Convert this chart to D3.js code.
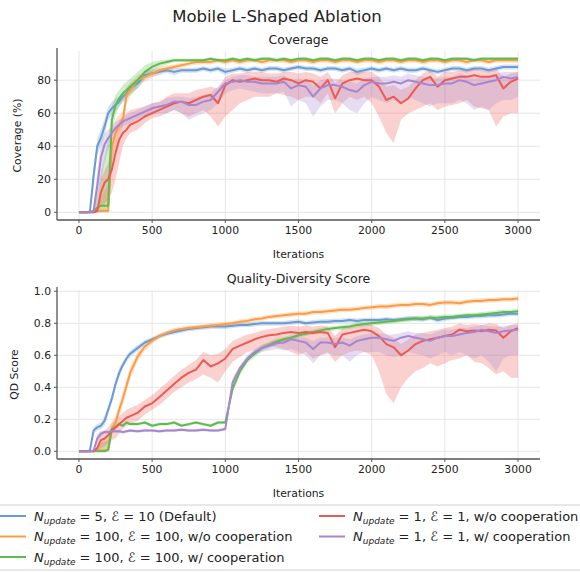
<!DOCTYPE html>
<html>
<head>
<meta charset="utf-8">
<script src="https://cdn.jsdelivr.net/npm/d3@7"></script>
<style>
  body { margin: 0; background: #fff; }
  text { font-family: "DejaVu Sans", sans-serif; fill: #222; }
</style>
</head>
<body>
<svg id="chart" width="580" height="572"></svg>
<script>
// iterations sampled from the figure
var iters = [0,50,75,100,125,150,175,200,225,250,275,300,325,350,
  400,450,500,550,600,650,700,750,800,850,
  900,950,1000,1050,1100,1150,1200,1250,1300,1350,
  1400,1450,1500,1550,1600,1650,1700,1750,1800,1850,
  1900,1950,2000,2050,2100,2150,2200,2250,2300,2350,
  2400,2450,2500,2550,2600,2650,2700,2750,2800,2850,
  2900,2950,3000];

var xTicks = [0,500,1000,1500,2000,2500,3000];
var covTicks = [0,20,40,60,80];
var qdTicks = [0,0.2,0.4,0.6,0.8,1.0];

// ---- Coverage (%) ----
var covDefault = [0,0,0.5,22,40,45,52,60,63,65,67,70,72,75,
  78,83,84,85,86,85,86,86,86,87,
  86,87,85,86,87,86,87,86,87,87,
  86,87,88,87,87,86,87,87,86,87,
  85,86,87,86,87,86,87,86,86,87,
  86,85,86,87,87,86,87,87,86,87,
  88,88,88];
var covDefaultSd = [0,0,0.5,6,5,5,5,4,4,4,3,3,3,3,
  3,2.5,2,2,1.5,2,1.5,1.5,1.5,1.5,
  1.5,1.5,2,1.5,1.5,1.5,1.5,1.5,1.5,1.5,
  1.5,1.5,1.5,1.5,1.5,1.5,1.5,1.5,1.5,1.5,
  2,1.5,1.5,1.5,1.5,1.5,1.5,1.5,1.5,1.5,
  1.5,1.5,1.5,1.5,1.5,1.5,1.5,1.5,1.5,1.5,
  1.5,1.5,1.5];

var covN100 = [0,0,0,0,0.5,1,1,1,40,48,53,56,71,74,
  80,82,84,86,87,88,89,90,91,91,
  91,92,91,92,91,92,92,91,92,92,
  92,91,92,92,91,92,92,91,92,92,
  91,92,92,91,92,92,91,92,92,91,
  92,92,91,92,92,91,92,92,91,92,
  92,92,92];
var covN100Sd = [0,0,0,0,2,8,12,15,10,8,6,5,5,4,
  3,3,2.5,2,2,1.5,1.5,1.5,1.5,1.5,
  1.5,1.5,1.5,1.5,1.5,1.5,1.5,1.5,1.5,1.5,
  1.5,1.5,1.5,1.5,1.5,1.5,1.5,1.5,1.5,1.5,
  1.5,1.5,1.5,1.5,1.5,1.5,1.5,1.5,1.5,1.5,
  1.5,1.5,1.5,1.5,1.5,1.5,1.5,1.5,1.5,1.5,
  1.5,1.5,1.5];

var covN100Coop = [0,0,0,0.5,3,4,4,4,56,65,69,72,74,76,
  80,85,88,90,91,92,92,92,92,92,
  93,92,92,93,92,93,92,93,93,92,
  93,92,93,93,92,93,93,92,93,93,
  92,93,93,92,93,93,92,93,93,92,
  93,93,92,93,93,93,92,93,93,93,
  93,93,93];
var covN100CoopSd = [0,0,0,1,8,20,30,40,8,6,5,5,5,5,
  5,4,3,2,1.5,1,1,1,1,1,
  1,1,1,1,1,1,1,1,1,1,
  1,1,1,1,1,1,1,1,1,1,
  1,1,1,1,1,1,1,1,1,1,
  1,1,1,1,1,1,1,1,1,1,
  1,1,1];

var covN1 = [0,0,0,0,1,12,18,20,26,36,44,48,50,53,
  55,58,60,62,64,66,67,66,68,70,
  71,66,77,80,79,80,81,80,80,79,
  81,80,78,80,79,75,80,69,78,80,
  81,80,80,76,68,70,66,69,75,80,
  82,76,80,81,82,82,83,82,82,83,
  75,79,81];
var covN1Lo = [0,0,0,0,0,3,5,8,12,20,30,40,45,48,
  50,54,57,58,60,62,60,58,60,62,
  58,52,58,62,66,68,70,70,70,72,
  71,70,68,70,70,66,72,60,66,70,
  68,70,66,58,48,42,56,60,62,64,
  66,62,64,65,66,68,64,63,62,52,
  58,60,60];
var covN1Hi = [0,0,0,0,3,20,25,30,40,50,55,58,60,62,
  63,64,66,67,70,72,72,72,74,75,
  76,75,82,84,84,85,85,85,84,84,
  85,85,84,85,84,82,85,78,83,85,
  85,85,85,82,76,77,74,76,80,84,
  86,82,85,85,86,86,87,86,86,87,
  82,84,85];

var covN1Coop = [0,0,0,1,16,33,41,45,48,51,53,55,56,57,
  59,61,63,64,65,67,67,65,65,67,
  68,73,78,79,80,79,79,78,78,78,
  79,75,77,76,70,75,77,77,76,74,
  73,77,79,78,78,79,78,80,79,78,
  77,77,78,78,80,79,77,78,79,80,
  82,81,82];
var covN1CoopLo = [0,0,0,0,5,18,30,38,43,47,50,52,53,54,
  56,58,59,60,60,62,60,56,58,60,
  62,66,72,74,75,74,73,72,72,72,
  73,64,68,66,58,64,68,68,66,62,
  60,66,70,68,66,68,66,70,68,66,
  64,66,66,66,68,66,62,64,62,66,
  68,68,70];
var covN1CoopHi = [0,0,0,3,25,42,48,50,52,55,56,58,59,60,
  62,64,66,67,69,70,70,69,70,71,
  72,76,80,82,83,83,82,82,82,82,
  83,80,81,80,77,80,81,81,80,79,
  78,81,82,82,82,83,82,84,83,82,
  81,81,82,82,84,83,81,82,83,84,
  85,85,85];

// ---- QD score ----
var qdDefault = [0,0,0.005,0.13,0.15,0.16,0.19,0.26,0.33,0.42,0.49,0.54,0.58,0.61,
  0.645,0.68,0.70,0.72,0.735,0.745,0.755,0.765,0.77,0.775,
  0.78,0.78,0.78,0.785,0.79,0.79,0.795,0.80,0.80,0.80,
  0.80,0.805,0.81,0.80,0.805,0.81,0.81,0.815,0.815,0.82,
  0.815,0.82,0.82,0.82,0.825,0.82,0.825,0.83,0.83,0.825,
  0.835,0.82,0.83,0.835,0.84,0.84,0.845,0.845,0.85,0.85,
  0.855,0.86,0.86];
var qdDefaultSd = [0,0,0.005,0.02,0.02,0.02,0.03,0.03,0.03,0.03,0.03,0.02,0.02,0.02,
  0.02,0.015,0.015,0.015,0.015,0.015,0.015,0.015,0.015,0.015,
  0.015,0.015,0.015,0.015,0.015,0.015,0.015,0.015,0.015,0.015,
  0.015,0.015,0.015,0.015,0.015,0.015,0.015,0.015,0.015,0.015,
  0.015,0.015,0.015,0.015,0.015,0.015,0.015,0.015,0.015,0.015,
  0.015,0.015,0.015,0.015,0.015,0.015,0.015,0.015,0.015,0.015,
  0.015,0.015,0.015];

var qdN100 = [0,0,0,0,0.005,0.005,0.005,0.01,0.14,0.18,0.26,0.33,0.41,0.49,
  0.59,0.655,0.69,0.72,0.74,0.755,0.765,0.77,0.775,0.78,
  0.785,0.79,0.795,0.80,0.81,0.815,0.825,0.83,0.84,0.845,
  0.85,0.855,0.86,0.86,0.87,0.87,0.875,0.88,0.885,0.885,
  0.89,0.895,0.90,0.905,0.905,0.91,0.915,0.915,0.92,0.92,
  0.915,0.925,0.93,0.93,0.925,0.935,0.94,0.94,0.945,0.945,
  0.95,0.95,0.955];
var qdN100Sd = [0,0,0,0,0.02,0.05,0.07,0.08,0.04,0.04,0.04,0.04,0.04,0.04,
  0.03,0.025,0.02,0.015,0.015,0.015,0.015,0.015,0.015,0.015,
  0.015,0.015,0.015,0.015,0.015,0.015,0.015,0.015,0.015,0.015,
  0.015,0.015,0.015,0.015,0.015,0.015,0.015,0.015,0.015,0.015,
  0.015,0.015,0.015,0.015,0.015,0.015,0.015,0.015,0.015,0.015,
  0.015,0.015,0.015,0.015,0.015,0.015,0.015,0.015,0.015,0.015,
  0.015,0.015,0.015];

var qdN100Coop = [0,0,0,0,0,0,0,0.01,0.14,0.15,0.17,0.16,0.18,0.17,
  0.17,0.18,0.16,0.17,0.17,0.18,0.16,0.17,0.18,0.17,
  0.16,0.18,0.18,0.39,0.50,0.57,0.61,0.645,0.665,0.685,
  0.70,0.71,0.725,0.735,0.745,0.755,0.765,0.77,0.775,0.78,
  0.79,0.795,0.80,0.805,0.81,0.815,0.82,0.825,0.83,0.83,
  0.835,0.835,0.84,0.84,0.845,0.85,0.85,0.855,0.86,0.865,
  0.87,0.87,0.875];
var qdN100CoopSd = [0,0,0,0,0.03,0.05,0.06,0.06,0.02,0.015,0.01,0.01,0.01,0.01,
  0.01,0.01,0.01,0.01,0.01,0.01,0.01,0.01,0.01,0.01,
  0.01,0.01,0.01,0.02,0.02,0.02,0.02,0.02,0.02,0.02,
  0.015,0.015,0.015,0.015,0.015,0.015,0.015,0.015,0.015,0.015,
  0.015,0.015,0.015,0.015,0.015,0.015,0.015,0.015,0.015,0.015,
  0.015,0.015,0.015,0.015,0.015,0.015,0.015,0.015,0.015,0.015,
  0.015,0.015,0.015];

var qdN1 = [0,0,0,0,0.02,0.07,0.08,0.10,0.13,0.15,0.17,0.19,0.21,0.22,
  0.24,0.28,0.30,0.34,0.38,0.42,0.46,0.49,0.51,0.57,
  0.53,0.55,0.58,0.64,0.66,0.68,0.70,0.715,0.725,0.73,
  0.74,0.745,0.74,0.745,0.74,0.745,0.74,0.65,0.73,0.74,
  0.75,0.76,0.75,0.72,0.67,0.65,0.60,0.63,0.67,0.69,
  0.70,0.71,0.72,0.73,0.76,0.75,0.755,0.75,0.76,0.755,
  0.71,0.75,0.77];
var qdN1Lo = [0,0,0,0,0,0.02,0.03,0.05,0.07,0.08,0.11,0.14,0.16,0.17,
  0.19,0.23,0.26,0.29,0.33,0.37,0.40,0.43,0.45,0.48,
  0.46,0.43,0.50,0.56,0.59,0.62,0.63,0.65,0.66,0.65,
  0.64,0.62,0.60,0.62,0.58,0.60,0.62,0.56,0.60,0.62,
  0.63,0.62,0.60,0.50,0.36,0.30,0.40,0.46,0.50,0.52,
  0.55,0.53,0.55,0.57,0.58,0.60,0.56,0.55,0.52,0.48,
  0.50,0.46,0.46];
var qdN1Hi = [0,0,0,0,0.05,0.12,0.13,0.15,0.18,0.20,0.22,0.24,0.26,0.27,
  0.29,0.32,0.35,0.39,0.43,0.47,0.51,0.54,0.57,0.62,
  0.60,0.61,0.64,0.69,0.71,0.73,0.74,0.755,0.765,0.77,
  0.78,0.785,0.78,0.785,0.78,0.785,0.78,0.72,0.77,0.78,
  0.79,0.80,0.79,0.77,0.73,0.71,0.67,0.70,0.73,0.74,
  0.75,0.76,0.77,0.78,0.80,0.79,0.795,0.79,0.80,0.795,
  0.77,0.79,0.80];

var qdN1Coop = [0,0,0,0.005,0.08,0.11,0.12,0.12,0.125,0.125,0.125,0.12,0.125,0.13,
  0.125,0.13,0.13,0.125,0.13,0.13,0.135,0.13,0.13,0.135,
  0.13,0.13,0.14,0.43,0.52,0.58,0.62,0.645,0.66,0.675,
  0.68,0.70,0.69,0.68,0.64,0.68,0.68,0.67,0.68,0.66,
  0.69,0.70,0.71,0.71,0.70,0.69,0.71,0.72,0.71,0.70,
  0.69,0.71,0.72,0.72,0.73,0.74,0.745,0.76,0.75,0.74,
  0.75,0.755,0.76];
var qdN1CoopLo = [0,0,0,0,0.05,0.09,0.11,0.11,0.115,0.115,0.115,0.11,0.115,0.12,
  0.115,0.12,0.12,0.115,0.12,0.12,0.125,0.12,0.12,0.125,
  0.12,0.12,0.13,0.40,0.50,0.56,0.60,0.62,0.63,0.64,
  0.63,0.64,0.62,0.60,0.55,0.60,0.61,0.60,0.60,0.56,
  0.60,0.62,0.62,0.62,0.60,0.59,0.60,0.62,0.61,0.60,
  0.58,0.60,0.62,0.60,0.62,0.60,0.58,0.60,0.56,0.50,
  0.58,0.60,0.60];
var qdN1CoopHi = [0,0,0,0.01,0.11,0.13,0.13,0.13,0.135,0.135,0.135,0.13,0.135,0.14,
  0.135,0.14,0.14,0.135,0.14,0.14,0.145,0.14,0.14,0.145,
  0.14,0.14,0.15,0.46,0.54,0.60,0.64,0.665,0.68,0.695,
  0.70,0.72,0.71,0.71,0.69,0.71,0.71,0.71,0.71,0.70,
  0.72,0.73,0.74,0.74,0.73,0.73,0.74,0.75,0.74,0.74,
  0.73,0.75,0.76,0.76,0.77,0.77,0.78,0.79,0.78,0.78,
  0.78,0.79,0.79];

var colors = ['#6b9bd3', '#fe9b45', '#5fbb4f', '#ec5a52', '#a785cf'];

function bandFromSd(mean, sd) {
  return mean.map(function (m, i) {
    return {x: iters[i], y: m, lo: Math.max(0, m - sd[i]), hi: m + sd[i]};
  });
}
function bandFromLoHi(mean, lo, hi) {
  return mean.map(function (m, i) {
    return {x: iters[i], y: m, lo: lo[i], hi: hi[i]};
  });
}

var covSeries = [
  bandFromSd(covDefault, covDefaultSd),
  bandFromSd(covN100, covN100Sd),
  bandFromSd(covN100Coop, covN100CoopSd),
  bandFromLoHi(covN1, covN1Lo, covN1Hi),
  bandFromLoHi(covN1Coop, covN1CoopLo, covN1CoopHi)
];
var qdSeries = [
  bandFromSd(qdDefault, qdDefaultSd),
  bandFromSd(qdN100, qdN100Sd),
  bandFromSd(qdN100Coop, qdN100CoopSd),
  bandFromLoHi(qdN1, qdN1Lo, qdN1Hi),
  bandFromLoHi(qdN1Coop, qdN1CoopLo, qdN1CoopHi)
];

var svg = d3.select('#chart');

svg.append('text')
  .attr('x', 277).attr('y', 22)
  .attr('text-anchor', 'middle')
  .style('font-size', '16.5px')
  .text('Mobile L-Shaped Ablation');

function drawPanel(opts) {
  var x = d3.scaleLinear().domain([-150, 3150]).range([57, 540]);
  var y = d3.scaleLinear().domain(opts.yDomain).range([opts.bottom, opts.top]);
  var g = svg.append('g');

  // grid
  g.selectAll('.vgrid').data(xTicks).enter().append('line')
    .attr('x1', function (d) { return x(d); }).attr('x2', function (d) { return x(d); })
    .attr('y1', opts.top).attr('y2', opts.bottom)
    .attr('stroke', '#e6e6e6').attr('stroke-width', 1);
  g.selectAll('.hgrid').data(opts.yTicks).enter().append('line')
    .attr('x1', 57).attr('x2', 540)
    .attr('y1', function (d) { return y(d); }).attr('y2', function (d) { return y(d); })
    .attr('stroke', '#e6e6e6').attr('stroke-width', 1);

  var area = d3.area()
    .x(function (d) { return x(d.x); })
    .y0(function (d) { return y(d.lo); })
    .y1(function (d) { return y(d.hi); });
  var line = d3.line()
    .x(function (d) { return x(d.x); })
    .y(function (d) { return y(d.y); });

  opts.series.forEach(function (s, i) {
    g.append('path').datum(s).attr('d', area)
      .attr('fill', colors[i]).attr('fill-opacity', 0.28).attr('stroke', 'none');
  });
  opts.series.forEach(function (s, i) {
    g.append('path').datum(s).attr('d', line)
      .attr('fill', 'none').attr('stroke', colors[i])
      .attr('stroke-width', 2).attr('stroke-linejoin', 'round');
  });

  // spines
  g.append('line').attr('x1', 57).attr('x2', 57)
    .attr('y1', opts.top - 3).attr('y2', opts.bottom)
    .attr('stroke', '#555').attr('stroke-width', 1.3);
  g.append('line').attr('x1', 57).attr('x2', 540)
    .attr('y1', opts.bottom).attr('y2', opts.bottom)
    .attr('stroke', '#555').attr('stroke-width', 1.3);

  // ticks
  g.selectAll('.xt').data(xTicks).enter().append('line')
    .attr('x1', function (d) { return x(d); }).attr('x2', function (d) { return x(d); })
    .attr('y1', opts.bottom).attr('y2', opts.bottom + 3)
    .attr('stroke', '#555');
  g.selectAll('.xl').data(xTicks).enter().append('text')
    .attr('x', function (d) { return x(d); })
    .attr('y', opts.bottom + 13.5)
    .attr('text-anchor', 'middle')
    .style('font-size', '10.8px')
    .text(function (d) { return d; });
  g.selectAll('.yt').data(opts.yTicks).enter().append('line')
    .attr('x1', 54).attr('x2', 57)
    .attr('y1', function (d) { return y(d); }).attr('y2', function (d) { return y(d); })
    .attr('stroke', '#555');
  g.selectAll('.yl').data(opts.yTicks).enter().append('text')
    .attr('x', 51)
    .attr('y', function (d) { return y(d) + 4; })
    .attr('text-anchor', 'end')
    .style('font-size', '10.8px')
    .text(opts.fmt);

  g.append('text')
    .attr('x', 298.5).attr('y', opts.top - 7)
    .attr('text-anchor', 'middle')
    .style('font-size', '12.5px')
    .text(opts.title);
  g.append('text')
    .attr('x', 298.5).attr('y', opts.bottom + 38)
    .attr('text-anchor', 'middle')
    .style('font-size', '10.8px')
    .text('Iterations');
  g.append('text')
    .attr('transform', 'translate(' + opts.ylabelX + ',' + ((opts.top + opts.bottom) / 2) + ') rotate(-90)')
    .attr('text-anchor', 'middle')
    .style('font-size', '10.8px')
    .text(opts.ylabel);
}

drawPanel({
  series: covSeries, yDomain: [-4.65, 97.65], top: 51, bottom: 220,
  yTicks: covTicks, fmt: function (d) { return d; },
  title: 'Coverage', ylabel: 'Coverage (%)', ylabelX: 21
});
drawPanel({
  series: qdSeries, yDomain: [-0.048, 1.008], top: 290, bottom: 459,
  yTicks: qdTicks, fmt: d3.format('.1f'),
  title: 'Quality-Diversity Score', ylabel: 'QD Score', ylabelX: 18
});

// legend
var legendItems = [
  {col: 0, row: 0, n: '5', e: '10', tail: ' (Default)'},
  {col: 0, row: 1, n: '100', e: '100', tail: ', w/o cooperation'},
  {col: 0, row: 2, n: '100', e: '100', tail: ', w/ cooperation'},
  {col: 1, row: 0, n: '1', e: '1', tail: ', w/o cooperation'},
  {col: 1, row: 1, n: '1', e: '1', tail: ', w/ cooperation'}
];

var legend = svg.append('g');
legend.append('rect')
  .attr('x', -3).attr('y', 505).attr('width', 590).attr('height', 65)
  .attr('rx', 3).attr('fill', '#fff').attr('stroke', '#d0d0d0');

legendItems.forEach(function (d, i) {
  var lx = d.col === 0 ? 0 : 319;
  var ly = 516 + d.row * 20.5;
  legend.append('line')
    .attr('x1', lx).attr('x2', lx + 26)
    .attr('y1', ly).attr('y2', ly)
    .attr('stroke', colors[i]).attr('stroke-width', 2);
  var t = legend.append('text')
    .attr('x', lx + 34).attr('y', ly + 4.5)
    .style('font-size', '13px');
  t.append('tspan').style('font-style', 'italic').text('N');
  t.append('tspan').style('font-style', 'italic').style('font-size', '9px')
    .attr('dy', 3).text('update');
  t.append('tspan').attr('dy', -3).text(' = ' + d.n + ', ');
  t.append('tspan').text('\u2130');
  t.append('tspan').text(' = ' + d.e + (d.tail.charAt(0) === ',' ? d.tail : d.tail));
});
</script>
</body>
</html>
